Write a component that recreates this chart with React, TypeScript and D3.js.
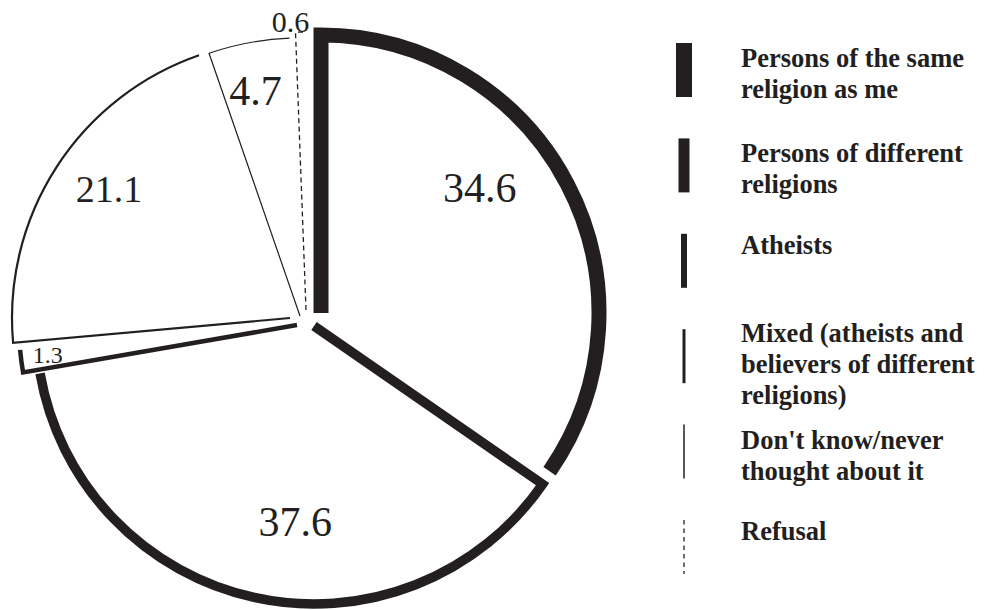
import React from 'react';
import * as d3 from 'd3';

// categories and values, clockwise from 12 o'clock
const categories = [
  'Persons of the same religion as me',
  'Persons of different religions',
  'Atheists',
  'Mixed (atheists and believers of different religions)',
  "Don't know/never thought about it",
  'Refusal',
];
const values = [34.6, 37.6, 1.3, 21.1, 4.7, 0.6];
const valueLabels = ['34.6', '37.6', '1.3', '21.1', '4.7', '0.6'];
const legendLines = [
  ['Persons of the same', 'religion as me'],
  ['Persons of different', 'religions'],
  ['Atheists'],
  ['Mixed (atheists and', 'believers of different', 'religions)'],
  ["Don't know/never", 'thought about it'],
  ['Refusal'],
];

// styling
const INK = '#231f20';
const W = 984;
const H = 610;
const CX = 306;
const CY = 320;
const R = 278;
const strokeWidths = [15, 9.5, 4.5, 2.2, 1.2, 1.3];
const legendWidths = [16, 11, 6, 3, 1.5, 1.3];
const pieDashes = [null, null, null, null, null, '5,3.5'];
const legendDashes = [null, null, null, null, null, '4.5,4'];
// hand-placed explode per slice (dx, dy)
const sliceShift = [[15, -7], [8, 6], [-9, 5], [-16, -2], [-6, -4], [0, -10]];
// label placement: distance from slice apex and angle tweak from the bisector (deg)
const labelDist = [202, 197, 251, 222, 229, 288];
const labelTurn = [-10.5, -7, 0.6, 2.5, -0.6, -2];
const labelSizes = [42, 42, 24, 38, 42, 30];

const LEGEND_X = 684;
const TEXT_X = 741;
const BAR_H = 54;
const LINE_H = 31;
// first baseline below bar top, by number of text lines
const firstBaseline = [20, 24, 13];

export default function App() {
  const pie = d3
    .pie<number>()
    .sort(null)
    .value((d) => d);
  const arcs = pie(values);

  const fillArc = d3.arc<d3.PieArcDatum<number>>().innerRadius(0).outerRadius(R);

  const legendY = d3
    .scalePoint<number>()
    .domain(d3.range(categories.length))
    .range([43, 520]);

  return (
    <div style={{ position: 'fixed', left: 0, top: 0, background: '#fff' }}>
      <svg width={W} height={H} style={{ display: 'block' }}>
        <rect width={W} height={H} fill="#fff" />
        {arcs.map((a, i) => {
          const [dx, dy] = sliceShift[i];
          return (
            <path
              key={'f' + i}
              transform={`translate(${CX + dx},${CY + dy})`}
              d={fillArc(a) || ''}
              fill="#fff"
            />
          );
        })}
        {arcs.map((a, i) => {
          const [dx, dy] = sliceShift[i];
          // open outline: apex -> start edge -> outer arc (end edge left open)
          const p = d3.path();
          p.moveTo(0, 0);
          p.arc(0, 0, R, a.startAngle - Math.PI / 2, a.endAngle - Math.PI / 2);
          return (
            <path
              key={'s' + i}
              transform={`translate(${CX + dx},${CY + dy})`}
              d={p.toString()}
              fill="none"
              stroke={INK}
              strokeWidth={strokeWidths[i]}
              strokeDasharray={pieDashes[i] || undefined}
              strokeLinejoin="miter"
            />
          );
        })}
        {arcs.map((a, i) => {
          const [dx, dy] = sliceShift[i];
          const mid = (a.startAngle + a.endAngle) / 2 + (labelTurn[i] * Math.PI) / 180;
          const x = CX + dx + labelDist[i] * Math.sin(mid);
          const y = CY + dy - labelDist[i] * Math.cos(mid);
          return (
            <text
              key={'l' + i}
              x={x}
              y={y}
              dy="0.33em"
              textAnchor="middle"
              fill={INK}
              fontFamily="'Liberation Serif', 'Times New Roman', serif"
              fontSize={labelSizes[i]}
            >
              {valueLabels[i]}
            </text>
          );
        })}
        {categories.map((c, i) => {
          const top = legendY(i) as number;
          const lines = legendLines[i];
          const base = top + firstBaseline[lines.length - 1];
          return (
            <g key={'lg' + i}>
              <line
                x1={LEGEND_X}
                x2={LEGEND_X}
                y1={top}
                y2={top + BAR_H}
                stroke={INK}
                strokeWidth={legendWidths[i]}
                strokeDasharray={legendDashes[i] || undefined}
              />
              <text
                x={TEXT_X}
                y={base}
                fill={INK}
                fontFamily="'Liberation Serif', 'Times New Roman', serif"
                fontWeight="bold"
                fontSize={26.5}
              >
                {lines.map((l, j) => (
                  <tspan key={j} x={TEXT_X} dy={j === 0 ? 0 : LINE_H}>
                    {l}
                  </tspan>
                ))}
              </text>
            </g>
          );
        })}
      </svg>
    </div>
  );
}
